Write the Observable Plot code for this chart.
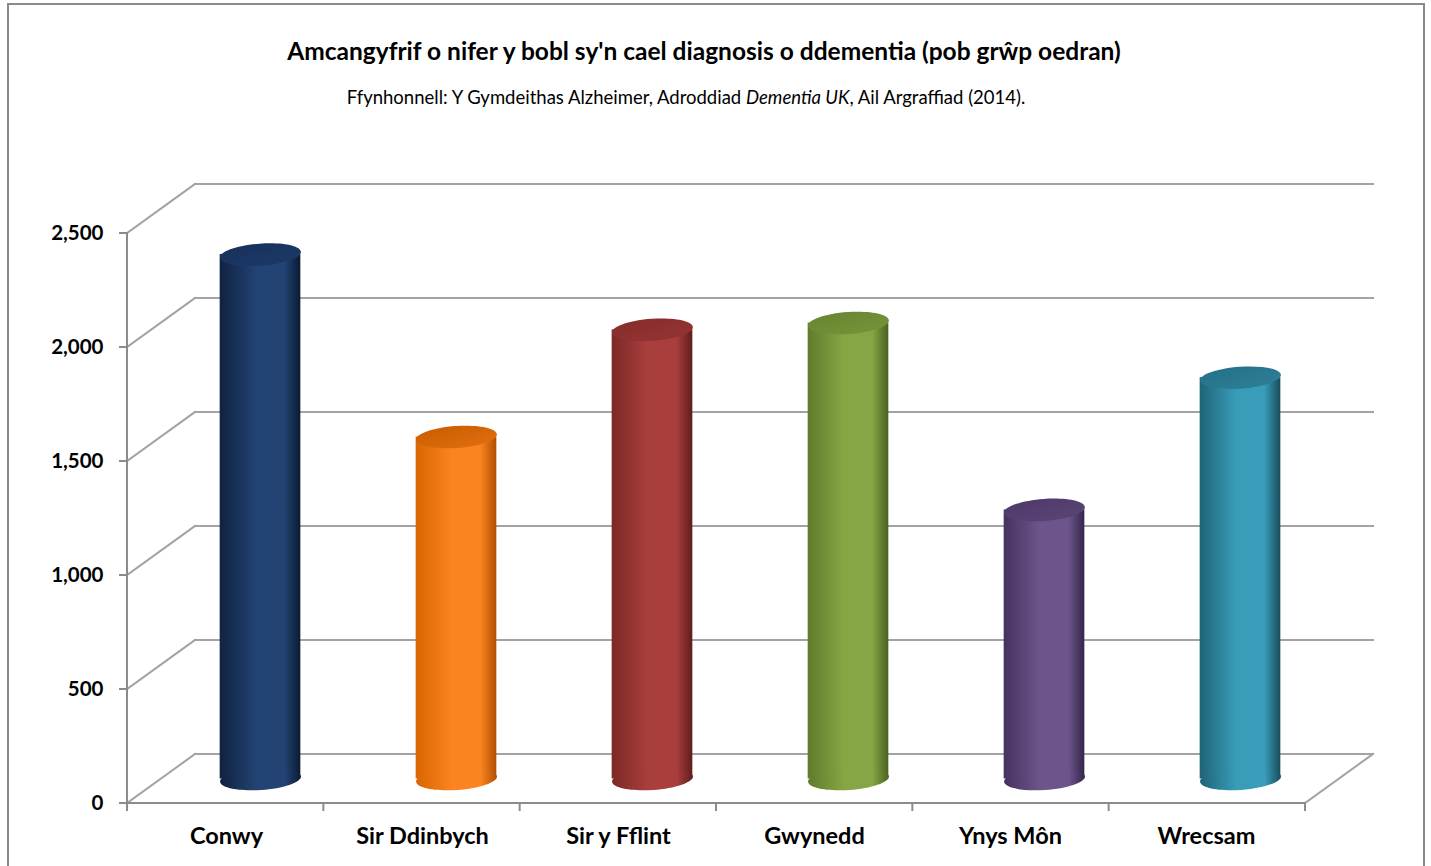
<!DOCTYPE html>
<html>
<head>
<meta charset="utf-8">
<script src="https://cdn.jsdelivr.net/npm/d3@7"></script>
<script src="https://cdn.jsdelivr.net/npm/@observablehq/plot@0.6"></script>
<style>
  html, body { margin: 0; padding: 0; background: #fff; width: 1431px; height: 866px; overflow: hidden; }
  #frame { position: absolute; left: 7px; top: 3px; width: 1418px; height: 900px; border: 2px solid #8a8a8a; box-sizing: border-box; }
  #title { position: absolute; left: 0; top: 36px; width: 1408px; text-align: center; font-family: Lato, sans-serif; font-weight: bold; font-size: 24.5px; line-height: 30px; color: #000; }
  #subtitle { position: absolute; left: 0; top: 86px; width: 1372px; text-align: center; font-family: Lato, sans-serif; font-size: 18.5px; line-height: 22px; color: #000; }
  #chart { position: absolute; left: 0; top: 110px; }
</style>
</head>
<body>
<div id="frame"></div>
<div id="title">Amcangyfrif o nifer y bobl sy'n cael diagnosis o ddementia (pob grŵp oedran)</div>
<div id="subtitle">Ffynhonnell: Y Gymdeithas Alzheimer, Adroddiad <i>Dementia UK</i>, Ail Argraffiad (2014).</div>
<div id="chart"></div>
<script>
// ---- data ----
const categories = ["Conwy", "Sir Ddinbych", "Sir y Fflint", "Gwynedd", "Ynys Môn", "Wrecsam"];
const values = [2300, 1500, 1970, 2000, 1180, 1760];
const yTicks = [0, 500, 1000, 1500, 2000, 2500];

// ---- styles ----
const bodyColors = [
  ["#10223f", "#224373", "#0c1a33"],
  ["#d96600", "#fb8420", "#b04e00"],
  ["#7c2826", "#a93f3d", "#5e1d1c"],
  ["#5f7c2b", "#86a544", "#4a6221"],
  ["#45325f", "#6d558c", "#34254a"],
  ["#1f6478", "#399cb8", "#174d5d"]
];
const topColors = [
  ["#17305a", "#1c3a68"],
  ["#c85c00", "#e27010"],
  ["#842c2a", "#963534"],
  ["#66842f", "#76953a"],
  ["#4d3968", "#5b4578"],
  ["#246f86", "#2d8199"]
];
const depthDx = 68, depthDy = -49;
const barDx = depthDx / 2, barDy = depthDy / 2;
const barWidth = 81, ellRy = 11, tilt = -0.07;

const W = 1431, H = 756, ML = 127, MR = 126, MT = 123, MB = 63;
const bandW = (W - ML - MR) / categories.length;

const table = categories.map((name, i) => ({
  name, value: values[i], body: `url(#body${i})`, top: `url(#top${i})`
}));

const ellipse = {
  draw(ctx, size) {
    const rx = Math.sqrt(size / Math.PI), ry = ellRy;
    const c = Math.cos(tilt), s = Math.sin(tilt), k = 0.5522848;
    const p = (x, y) => [x * c - y * s, x * s + y * c];
    ctx.moveTo(...p(rx, 0));
    ctx.bezierCurveTo(...p(rx, k * ry), ...p(k * rx, ry), ...p(0, ry));
    ctx.bezierCurveTo(...p(-k * rx, ry), ...p(-rx, k * ry), ...p(-rx, 0));
    ctx.bezierCurveTo(...p(-rx, -k * ry), ...p(-k * rx, -ry), ...p(0, -ry));
    ctx.bezierCurveTo(...p(k * rx, -ry), ...p(rx, -k * ry), ...p(rx, 0));
    ctx.closePath();
  }
};

function frame3d(index, scales, values, dimensions) {
  const {y} = scales;
  const {width, marginLeft, marginRight} = dimensions;
  const x0 = marginLeft, x1 = width - marginRight;
  const g = d3.create("svg:g").attr("fill", "none").attr("stroke-linecap", "square");
  const line = (a, b, c, d, col, w) => g.append("line").attr("x1", a).attr("y1", b).attr("x2", c).attr("y2", d).attr("stroke", col).attr("stroke-width", w);
  for (const v of yTicks) {
    line(x0 + depthDx, y(v) + depthDy, x1 + depthDx, y(v) + depthDy, "#a3a3a3", 2);
    line(x0, y(v), x0 + depthDx, y(v) + depthDy, "#a3a3a3", 2);
    line(x0 - 7, y(v), x0, y(v), "#8c8c8c", 2);
  }
  line(x1, y(0), x1 + depthDx, y(0) + depthDy, "#a3a3a3", 2);
  line(x0, y(yTicks[yTicks.length - 1]), x0, y(0), "#8c8c8c", 2);
  line(x0, y(0), x1, y(0), "#8c8c8c", 2);
  const bw = (x1 - x0) / categories.length;
  for (let i = 0; i <= categories.length; i++) {
    line(x0 + i * bw, y(0), x0 + i * bw, y(0) + 7, "#8c8c8c", 2);
  }
  return g.node();
}

const inset = (bandW - barWidth) / 2;

const plot = Plot.plot({
  width: W, height: H,
  marginLeft: ML, marginRight: MR, marginTop: MT, marginBottom: MB,
  x: {domain: categories, padding: 0, axis: null},
  y: {domain: [0, 2500], axis: null},
  color: {type: "identity"},
  style: {fontFamily: "Lato, sans-serif", background: "transparent", overflow: "visible"},
  marks: [
    frame3d,
    Plot.barY(table, {x: "name", y: "value", fill: "body", insetLeft: inset, insetRight: inset, dx: barDx, dy: barDy}),
    Plot.dot(table, {x: "name", y: () => 0, r: barWidth / 2, symbol: ellipse, fill: "body", stroke: "none", dx: barDx, dy: barDy}),
    Plot.dot(table, {x: "name", y: "value", r: barWidth / 2, symbol: ellipse, fill: "top", stroke: "none", dx: barDx, dy: barDy}),
    Plot.text(yTicks, {y: d => d, text: d => d3.format(",")(d), frameAnchor: "left", textAnchor: "end", dx: -24, fontSize: 20.5, fontWeight: "bold", fill: "#000"}),
    Plot.text(categories, {x: d => d, text: d => d, frameAnchor: "bottom", dy: 40, fontSize: 23.5, fontWeight: "bold", fill: "#000"})
  ]
});

const defs = [];
bodyColors.forEach((c, i) => {
  defs.push(`<linearGradient id="body${i}" x1="0" y1="0" x2="1" y2="0">
    <stop offset="0" stop-color="${c[0]}"/>
    <stop offset="0.45" stop-color="${c[1]}"/>
    <stop offset="0.8" stop-color="${c[1]}" stop-opacity="1"/>
    <stop offset="1" stop-color="${c[2]}"/></linearGradient>`);
});
topColors.forEach((c, i) => {
  defs.push(`<linearGradient id="top${i}" x1="0" y1="0" x2="1" y2="1">
    <stop offset="0" stop-color="${c[0]}"/>
    <stop offset="1" stop-color="${c[1]}"/></linearGradient>`);
});
plot.insertAdjacentHTML("afterbegin", `<defs>${defs.join("")}</defs>`);
document.getElementById("chart").appendChild(plot);
</script>
</body>
</html>
